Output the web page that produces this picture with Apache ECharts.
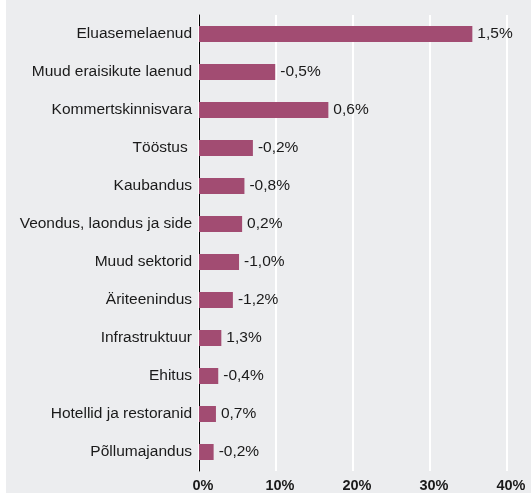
<!DOCTYPE html>
<html>
<head>
<meta charset="utf-8">
<script src="https://cdn.jsdelivr.net/npm/echarts@6/dist/echarts.min.js"></script>
<style>
  html, body { margin: 0; padding: 0; background: #ffffff; }
  #main { position: absolute; left: 6px; top: 0; width: 525px; height: 493px; }
</style>
</head>
<body>
<div id="main"></div>
<script>
// sectors, top to bottom as in the picture
var categories = ['Eluasemelaenud', 'Muud eraisikute laenud', 'Kommertskinnisvara', 'Tööstus ',
  'Kaubandus', 'Veondus, laondus ja side', 'Muud sektorid', 'Äriteenindus',
  'Infrastruktuur', 'Ehitus', 'Hotellid ja restoranid', 'Põllumajandus'];
// share of portfolio, %
var shares = [35.5, 9.9, 16.8, 7.0, 5.9, 5.6, 5.2, 4.4, 2.9, 2.5, 2.2, 1.9];
// change labels printed next to the bars
var changes = ['1,5%', '-0,5%', '0,6%', '-0,2%', '-0,8%', '0,2%', '-1,0%', '-1,2%', '1,3%', '-0,4%', '0,7%', '-0,2%'];
var xTicks = [0, 10, 20, 30, 40];

var font = 'Liberation Sans, Arial, Helvetica, sans-serif';

var option = {
    backgroundColor: '#ecedef',
    animation: false,
    grid: { left: 193, right: 24, top: 15, bottom: 22 },
    xAxis: {
        type: 'value',
        min: xTicks[0],
        max: xTicks[xTicks.length - 1],
        interval: 10,
        axisLine: { show: false },
        axisTick: { show: false },
        splitLine: { lineStyle: { color: '#ffffff', width: 2 } },
        axisLabel: {
            formatter: '{value}%',
            color: '#1a1a1a',
            fontWeight: 'bold',
            fontSize: 14.5,
            fontFamily: font,
            margin: 7,
            padding: [0, 0, 0, 8]
        }
    },
    yAxis: {
        type: 'category',
        inverse: true,
        data: categories,
        axisLine: { lineStyle: { color: '#000000', width: 1 } },
        axisTick: { show: false },
        axisLabel: { color: '#1a1a1a', fontSize: 15.5, fontFamily: font, margin: 7 }
    },
    series: [{
        type: 'bar',
        data: shares,
        barWidth: 16,
        itemStyle: { color: '#a24c72' },
        label: {
            show: true,
            position: 'right',
            distance: 5,
            color: '#1a1a1a',
            fontSize: 15.5,
            fontFamily: font,
            formatter: function (p) { return changes[p.dataIndex]; }
        }
    }]
};

var myChart = echarts.init(document.getElementById('main'));
myChart.setOption(option);
</script>
</body>
</html>
